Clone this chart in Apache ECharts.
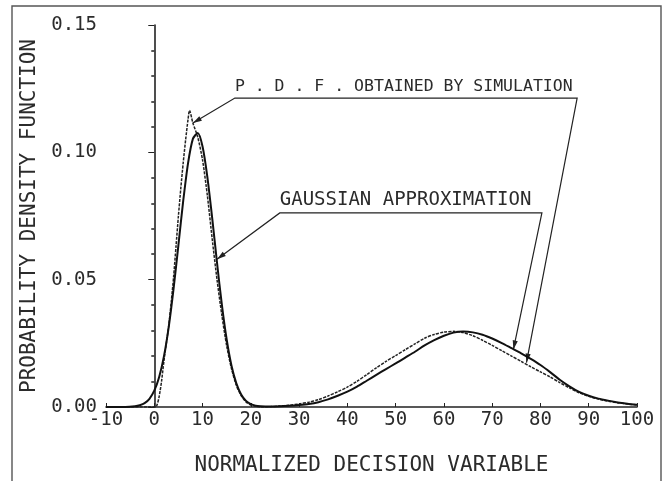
<!DOCTYPE html>
<html>
<head>
<meta charset="utf-8">
<script src="https://cdn.jsdelivr.net/npm/echarts@6/dist/echarts.min.js"></script>
<style>
  html, body { margin: 0; padding: 0; background: #fff; }
  #main { width: 665px; height: 481px; }
</style>
</head>
<body>
<div id="main"></div>
<script>
// Gaussian approximation of the decision-variable PDF (two humps)
const gaussX = [-10, -6, -4, -3, -2, -1, 0, 1, 2, 3, 4, 5, 6, 7, 8, 9, 10, 11, 12, 13, 14, 15, 16, 17, 18, 19, 20, 21, 22,
  24, 26, 28, 30, 32, 34, 36, 38, 40, 42, 44, 46, 48, 50, 52, 54, 56, 58, 60, 62, 64, 66, 68, 70, 72, 74, 76, 78, 80,
  82, 84, 86, 88, 90, 92, 94, 96, 98, 100];
const gaussY = [0, 0, 0.0003, 0.0007, 0.0015, 0.0032, 0.0064, 0.0117, 0.0199, 0.0315, 0.0465, 0.0636, 0.0810, 0.0958,
  0.1053, 0.1076, 0.1023, 0.0903, 0.0742, 0.0566, 0.0402, 0.0265, 0.0162, 0.0093, 0.0049, 0.0024, 0.0011, 0.0005, 0.0003,
  0.0002, 0.0003, 0.0005, 0.0008, 0.0012, 0.0019, 0.0030, 0.0044, 0.0060, 0.0080, 0.0103, 0.0126, 0.0149, 0.0171, 0.0194,
  0.0217, 0.0242, 0.0263, 0.0280, 0.0292, 0.0296, 0.0293, 0.0284, 0.0269, 0.0251, 0.0231, 0.0211, 0.0189, 0.0165,
  0.0137, 0.0107, 0.0081, 0.0059, 0.0044, 0.0033, 0.0025, 0.0018, 0.0013, 0.0009];

// PDF obtained by simulation
const simX = [-10, 0, 0.5, 1, 1.5, 2, 2.5, 3, 3.5, 4, 4.5, 5, 5.5, 6, 6.5, 7, 7.3, 8, 9, 10, 11, 12, 13, 14, 15, 16, 17,
  18, 19, 20, 21, 22, 24, 26, 28, 30, 32, 34, 36, 38, 40, 42, 44, 46, 48, 50, 52, 54, 56, 58, 60, 62, 64, 66, 68, 70,
  72, 74, 76, 78, 80, 82, 84, 86, 88, 90, 92, 94, 96, 98, 100];
const simY = [0, 0, 0.0005, 0.004, 0.010, 0.018, 0.025, 0.032, 0.041, 0.051, 0.063, 0.075, 0.086, 0.096, 0.105, 0.113,
  0.1165, 0.1115, 0.106, 0.097, 0.083, 0.066, 0.050, 0.036, 0.024, 0.015, 0.0085, 0.0045, 0.002, 0.0008, 0.0003, 0,
  0.0001, 0.0004, 0.0007, 0.0012, 0.0019, 0.0029, 0.0043, 0.0060, 0.0078, 0.0101, 0.0127, 0.0154, 0.0179, 0.0202,
  0.0225, 0.0248, 0.0270, 0.0285, 0.0294, 0.0297, 0.0292, 0.0280, 0.0262, 0.0242, 0.0221, 0.0200, 0.0179, 0.0158,
  0.0138, 0.0118, 0.0096, 0.0075, 0.0056, 0.0042, 0.0031, 0.0023, 0.0017, 0.0012, 0.0008];

const xRange = [-10, 100];
const yRange = [0, 0.15];

const pairs = (xs, ys) => xs.map((x, i) => [x, ys[i]]);

const FONT = 'DejaVu Sans Mono';
const INK = '#2b2b2b';

const chart = echarts.init(document.getElementById('main'), null, { renderer: 'canvas' });

chart.setOption({
  animation: false,
  backgroundColor: '#ffffff',
  grid: { left: 106, right: 28, top: 25, bottom: 74 },
  xAxis: {
    type: 'value',
    min: xRange[0], max: xRange[1], interval: 10,
    name: 'NORMALIZED DECISION VARIABLE',
    nameLocation: 'middle', nameGap: 48,
    nameTextStyle: { fontFamily: FONT, fontSize: 21, color: INK },
    axisLine: { onZero: false, lineStyle: { color: '#222', width: 1.6 } },
    axisTick: { show: true, inside: true, length: 4, lineStyle: { color: '#222', width: 1 } },
    axisLabel: { margin: 4, fontFamily: FONT, fontSize: 19, color: INK },
    splitLine: { show: false }
  },
  yAxis: {
    type: 'value',
    min: yRange[0], max: yRange[1], interval: 0.05,
    name: 'PROBABILITY DENSITY FUNCTION',
    nameLocation: 'middle', nameGap: 64,
    nameTextStyle: { fontFamily: FONT, fontSize: 21, color: INK },
    axisLine: { show: true, lineStyle: { color: '#222', width: 1.6 } },
    axisTick: { show: true, inside: false, length: 6, lineStyle: { color: '#222', width: 1 } },
    minorTick: { show: true, splitNumber: 5, length: 3, lineStyle: { color: '#222', width: 1.5 } },
    axisLabel: { margin: 9, fontFamily: FONT, fontSize: 19, color: INK,
      formatter: v => v.toFixed(2) },
    splitLine: { show: false }
  },
  series: [
    {
      name: 'GAUSSIAN APPROXIMATION',
      type: 'line',
      data: pairs(gaussX, gaussY),
      showSymbol: false,
      smooth: 0.25,
      lineStyle: { color: '#111', width: 2 },
      z: 3
    },
    {
      name: 'P . D . F . OBTAINED BY SIMULATION',
      type: 'line',
      data: pairs(simX, simY),
      showSymbol: false,
      smooth: 0.25,
      lineStyle: { color: '#222', width: 1.5, type: [3, 1.2] },
      z: 2
    }
  ]
});

// Leader annotations, anchored in data space
const notes = [
  { text: 'P . D . F . OBTAINED BY SIMULATION', size: 16.5,
    left: [16.7, 0.1213], right: [87.6, 0.1213],
    tips: [[8.0, 0.1115], [77.1, 0.0174]] },
  { text: 'GAUSSIAN APPROXIMATION', size: 19,
    left: [26.0, 0.0762], right: [80.3, 0.0762],
    tips: [[13.0, 0.058], [74.4, 0.0226]] }
];

const toPx = p => chart.convertToPixel({ gridIndex: 0 }, p);

function arrowHead(from, tip) {
  const dx = tip[0] - from[0], dy = tip[1] - from[1];
  const len = Math.hypot(dx, dy);
  const ux = dx / len, uy = dy / len;
  const L = 9, W = 2.6;
  const bx = tip[0] - ux * L, by = tip[1] - uy * L;
  return {
    type: 'polygon',
    shape: { points: [tip, [bx - uy * W, by + ux * W], [bx + uy * W, by - ux * W]] },
    style: { fill: '#222' },
    silent: true
  };
}

const graphics = [];
notes.forEach(n => {
  const l = toPx(n.left), r = toPx(n.right);
  const t0 = toPx(n.tips[0]), t1 = toPx(n.tips[1]);
  graphics.push({
    type: 'polyline',
    shape: { points: [t0, l, r, t1] },
    style: { stroke: '#222', lineWidth: 1.2, fill: null },
    silent: true
  });
  graphics.push(arrowHead(l, t0));
  graphics.push(arrowHead(r, t1));
  graphics.push({
    type: 'text',
    x: l[0], y: l[1] - 3,
    style: { text: n.text, fontFamily: FONT, fontSize: n.size, fill: INK,
      textAlign: 'left', textVerticalAlign: 'bottom' },
    silent: true
  });
});

// Page frame around the figure
graphics.push({
  type: 'polyline',
  shape: { points: [[12, 481], [12, 6], [661, 6], [661, 481]] },
  style: { stroke: '#555', lineWidth: 1.4, fill: null },
  silent: true
});

chart.setOption({ graphic: graphics });
</script>
</body>
</html>
